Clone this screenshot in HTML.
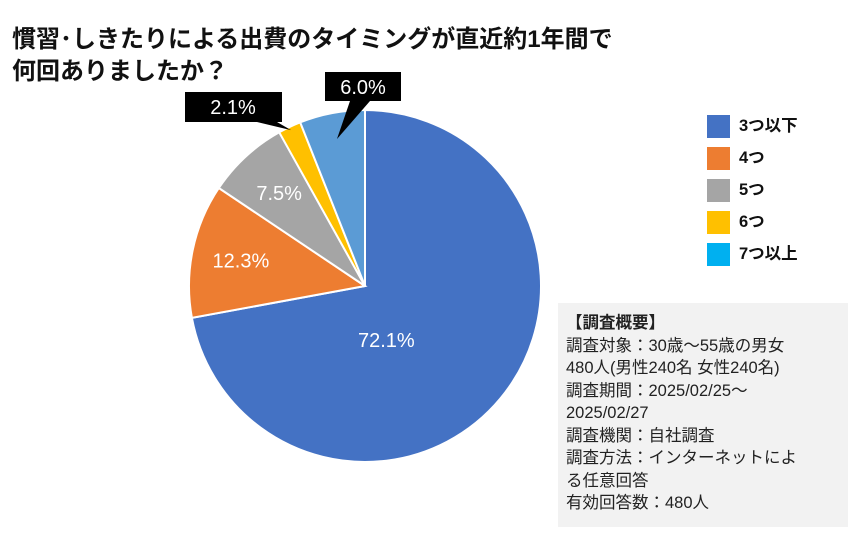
<!DOCTYPE html>
<html><head><meta charset="utf-8">
<style>
body{margin:0;width:852px;height:552px;background:#fff;overflow:hidden;font-family:"Liberation Sans","Noto Sans CJK JP",sans-serif;position:relative}
.title{position:absolute;left:12px;top:24px;font-size:24px;font-weight:bold;line-height:32px;color:#111}
.leg{position:absolute;left:707px;font-size:16.5px;font-weight:bold;color:#111}
.leg span{display:inline-block;width:23px;height:23px;vertical-align:middle;margin-right:9px}
.info{position:absolute;left:558px;top:303px;width:290px;height:224px;background:#f2f2f2;padding:9px 0 0 8px;box-sizing:border-box;font-size:16.5px;line-height:22.5px;color:#222}
</style></head><body>
<div class="title">慣習･しきたりによる出費のタイミングが直近約1年間で<br>何回ありましたか？</div>
<svg id="pie" width="852" height="552" style="position:absolute;left:0;top:0"></svg>
<div class="leg" style="top:112px"><span style="background:#4472C4"></span>3つ以下</div>
<div class="leg" style="top:144px"><span style="background:#ED7D31"></span>4つ</div>
<div class="leg" style="top:176px"><span style="background:#A5A5A5"></span>5つ</div>
<div class="leg" style="top:208px"><span style="background:#FFC000"></span>6つ</div>
<div class="leg" style="top:240px"><span style="background:#00B0F0"></span>7つ以上</div>
<div class="info"><b>【調査概要】</b><br>調査対象：30歳～55歳の男女<br>480人(男性240名 女性240名)<br>調査期間：2025/02/25～<br>2025/02/27<br>調査機関：自社調査<br>調査方法：インターネットによ<br>る任意回答<br>有効回答数：480人</div>
<script>
const categories=["3つ以下","4つ","5つ","6つ","7つ以上"];
const values=[72.1,12.3,7.5,2.1,6.0];
const labels=["72.1%","12.3%","7.5%","2.1%","6.0%"];
const colors=["#4472C4","#ED7D31","#A5A5A5","#FFC000","#5B9BD5"];
const svg=document.getElementById('pie');
const NS="http://www.w3.org/2000/svg";
const cx=365,cy=286,r=176;
const total=values.reduce((a,b)=>a+b,0);
function pt(a,rr){return [cx+rr*Math.sin(a),cy-rr*Math.cos(a)];}
let acc=0;
values.forEach((v,i)=>{
  const a0=acc/total*2*Math.PI;acc+=v;const a1=acc/total*2*Math.PI;
  const p0=pt(a0,r),p1=pt(a1,r);
  const p=document.createElementNS(NS,'path');
  p.setAttribute('d',`M${cx},${cy}L${p0[0]},${p0[1]}A${r},${r} 0 ${a1-a0>Math.PI?1:0} 1 ${p1[0]},${p1[1]}Z`);
  p.setAttribute('fill',colors[i]);p.setAttribute('stroke','#fff');p.setAttribute('stroke-width','2');
  
  
  svg.appendChild(p);
  const am=(a0+a1)/2;
  if(i<3){
    const q=i==0?pt(am+0.5,r*0.33):pt(am,r*0.72);
    const t=document.createElementNS(NS,'text');
    t.setAttribute('x',q[0]);t.setAttribute('y',q[1]+7);t.setAttribute('text-anchor','middle');
    t.setAttribute('fill','#fff');t.setAttribute('font-size','20');t.textContent=labels[i];
    
    
    svg.appendChild(t);
  } else {
    const q=pt(am,r*(i==3?0.98:0.85));
    const box=i==3?{x:185,y:92,w:97,h:30,tx:233}:{x:325,y:72,w:76,h:29,tx:363};
    const g=document.createElementNS(NS,'g');
    
    
    const tri=document.createElementNS(NS,'polygon');
    const bx1=i==3?box.x+box.w-25:box.x+25,bx2=i==3?box.x+box.w-5:box.x+45;
    tri.setAttribute('points',`${bx1},${box.y+box.h} ${bx2},${box.y+box.h} ${q[0]},${q[1]}`);
    tri.setAttribute('fill','#000');
    const rc=document.createElementNS(NS,'rect');
    rc.setAttribute('x',box.x);rc.setAttribute('y',box.y);rc.setAttribute('width',box.w);rc.setAttribute('height',box.h);rc.setAttribute('fill','#000');
    const t=document.createElementNS(NS,'text');
    t.setAttribute('x',box.tx);t.setAttribute('y',box.y+22);t.setAttribute('text-anchor','middle');
    t.setAttribute('fill','#fff');t.setAttribute('font-size','20');t.textContent=labels[i];
    g.appendChild(tri);g.appendChild(rc);g.appendChild(t);svg.appendChild(g);
  }
});
</script>
</body></html>
